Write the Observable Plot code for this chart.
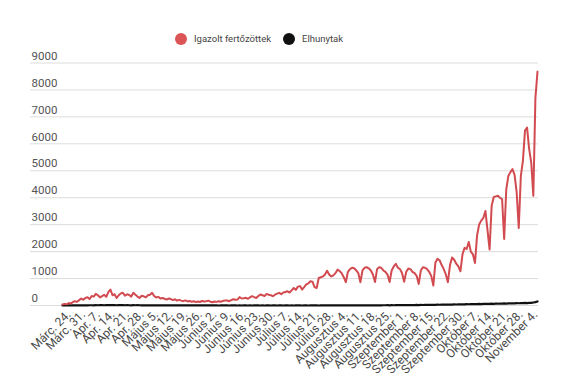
<!DOCTYPE html>
<html><head><meta charset="utf-8">
<script src="https://cdn.jsdelivr.net/npm/d3@7"></script>
<script src="https://cdn.jsdelivr.net/npm/@observablehq/plot@0.6"></script>
<style>
body{margin:0;background:#fff;font-family:Roboto,sans-serif;}
#wrap{position:relative;width:575px;height:387px;overflow:hidden;}
#legend{position:absolute;top:0;left:0;width:575px;height:50px;}
.item{position:absolute;top:32px;display:flex;align-items:center;font-size:9.5px;color:#444;height:13px;white-space:nowrap;}
.dot{width:12px;height:12px;border-radius:50%;margin-right:7px;flex:none;}
#chart{position:absolute;top:50px;left:0;}
</style></head>
<body><div id="wrap"><div id="legend"></div><div id="chart"></div></div>
<script>
const seriesNames = ["Igazolt fertőzöttek", "Elhunytak"];
const seriesColors = ["#d24b50", "#111111"];
const tickLabels = ["Márc. 24.","Márc. 31.","Apr. 7.","Apr. 14.","Apr. 21.","Apr. 28.","Május 5.","Május 12.","Május 19.","Május 26.","Június 2.","Június 9.","Június 16.","Június 23.","Június 30.","Július 7.","Július 14.","Július 21.","Július 28.","Augusztus 4.","Augusztus 11.","Augusztus 18.","Augusztus 25.","Szeptember 1.","Szeptember 8.","Szeptember 15.","Szeptember 22.","Szeptember 30.","Október 7.","Október 14.","Október 21.","Október 28.","November 4."];
const yTicks = [0,1000,2000,3000,4000,5000,6000,7000,8000,9000];
const confirmed = [
40,60,45,90,70,130,160,140,200,260,
210,280,310,240,350,330,430,380,300,350,
400,320,500,590,380,420,280,380,450,470,
360,420,390,330,470,400,330,280,360,340,
300,380,400,470,350,300,320,260,280,250,
220,260,240,200,230,185,210,180,160,190,
150,170,140,160,125,150,130,170,150,160,
180,140,120,150,135,160,140,170,190,185,
160,200,230,210,220,310,260,270,285,250,
300,345,310,280,350,410,380,350,430,400,
380,345,400,440,470,420,480,500,530,480,
560,650,580,700,720,590,680,780,820,900,
880,680,650,1020,1050,1080,1150,1290,1150,1080,
1120,1200,1330,1280,1200,1050,865,1250,1350,1400,
1380,1300,1200,865,1300,1400,1420,1380,1300,1150,
870,1350,1420,1400,1300,1250,1150,870,1300,1450,
1545,1400,1350,1200,880,1250,1370,1350,1250,1200,
1100,800,1300,1420,1400,1350,1250,1100,740,1600,
1730,1680,1500,1350,1150,865,1500,1780,1700,1550,
1450,1270,1900,2140,2100,2360,2000,1900,1580,2600,
3010,3150,3250,3510,2800,2080,3700,4030,4050,4070,
4000,3950,2470,4300,4810,4950,5060,4850,4200,2880,
4800,5370,6490,6600,5800,5300,4070,7700,8680];
const deaths = [
1,2,1,3,2,4,3,5,6,4,
7,8,6,9,10,8,12,9,11,13,
10,14,12,11,15,13,10,12,14,11,
9,12,10,8,11,9,12,10,7,9,
8,10,7,9,6,8,7,5,6,8,
5,6,4,5,7,4,3,5,4,3,
4,2,3,5,2,3,1,2,3,2,
1,2,1,3,1,0,2,1,1,2,
0,1,2,1,0,1,0,2,1,0,
1,0,1,2,1,0,1,0,1,2,
0,1,1,0,2,1,0,1,1,0,
1,0,2,1,1,0,1,2,0,1,
1,2,1,0,1,2,1,1,3,1,
2,1,2,3,1,2,4,2,3,5,
3,4,2,5,6,4,5,7,5,8,
6,9,7,8,10,9,11,8,12,10,
13,11,14,12,16,13,15,18,14,17,
20,17,22,19,24,21,26,23,28,25,
30,27,33,29,35,32,38,34,41,37,
44,40,47,43,50,46,52,49,55,51,
58,54,61,57,64,60,67,63,70,66,
73,69,76,72,80,76,84,79,88,83,
92,87,96,91,100,95,110,125,150];

// legend
const legend = document.getElementById("legend");
const legendLeft = [175, 283];
seriesNames.forEach((n, k) => {
  const it = document.createElement("div");
  it.className = "item";
  it.style.left = legendLeft[k] + "px";
  it.innerHTML = `<span class="dot" style="background:${k===0?"#db5456":seriesColors[k]}"></span><span>${n}</span>`;
  legend.appendChild(it);
});

const firstTick = 3, step = 7;
const tickPos = tickLabels.map((_, k) => firstTick + step * k);
const redData = confirmed.map((v, i) => ({i, v}));
const blackData = deaths.map((v, i) => ({i, v}));

const chart = Plot.plot({
  width: 575, height: 337,
  marginTop: 12.5, marginBottom: 82, marginLeft: 30, marginRight: 37,
  style: {fontFamily: "Roboto, sans-serif", background: "transparent"},
  x: {domain: [0, confirmed.length - 1], insetLeft: 32, insetRight: 1, label: null},
  y: {domain: [0, 9000], label: null, axis: null},
  marks: [
    Plot.gridY(yTicks, {stroke: "#dcdcdc", strokeOpacity: 1}),
    Plot.text(yTicks, {y: d => d, text: d => String(d), frameAnchor: "left", textAnchor: "start", dx: 1, dy: -7, fontSize: 11.5, fill: "#555"}),
    Plot.axisX(tickPos, {tickSize: 0, tickPadding: 7, tickRotate: -45, fontSize: 12, fill: "#4a4a4a", tickFormat: d => tickLabels[(d - firstTick) / step]}),
    Plot.line(blackData, {x: "i", y: "v", stroke: seriesColors[1], strokeWidth: 2.2}),
    Plot.line(redData, {x: "i", y: "v", stroke: seriesColors[0], strokeWidth: 2})
  ]
});
document.getElementById("chart").appendChild(chart);
</script>
</body></html>
